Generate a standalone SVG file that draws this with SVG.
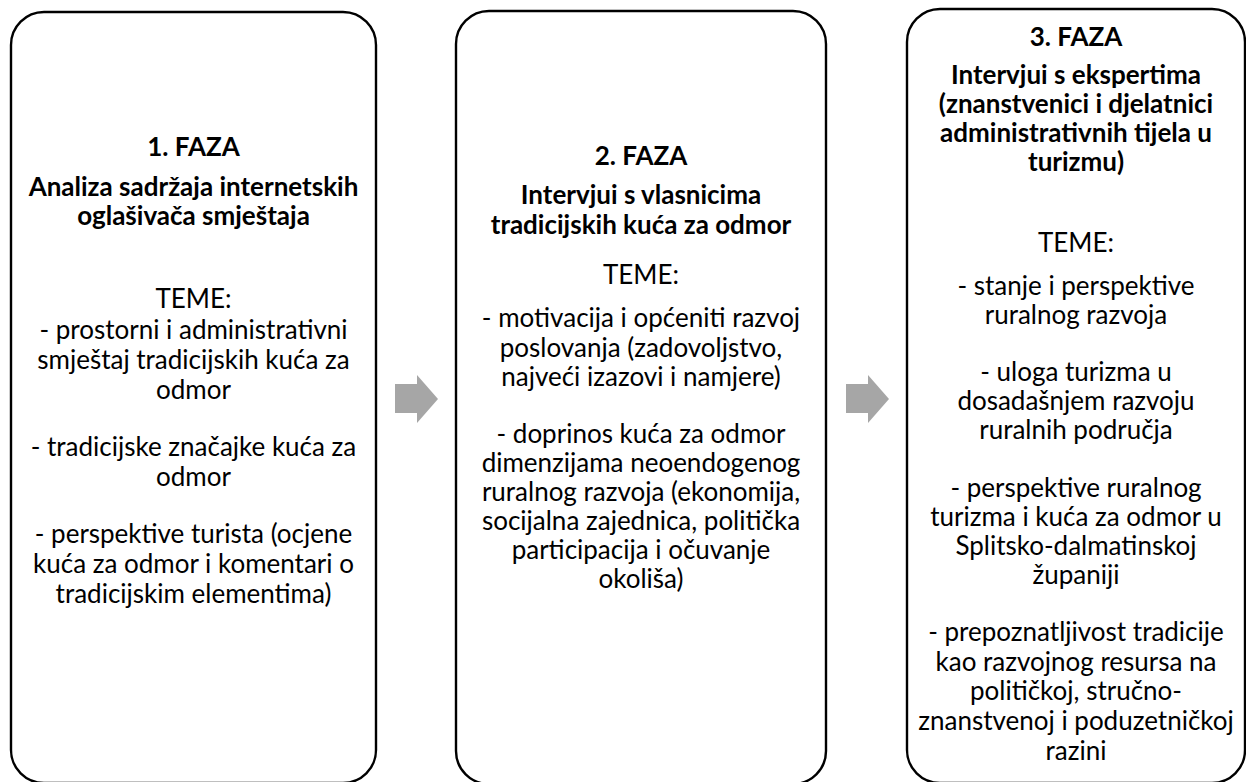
<svg xmlns="http://www.w3.org/2000/svg" width="1246" height="782" viewBox="0 0 1246 782">
<style>
.box{fill:#ffffff;stroke:#000000;stroke-width:2.4}
.arrow{fill:#a6a6a6;stroke:none}
text{font-family:Lato,"Liberation Sans",sans-serif;font-size:26px;fill:#000000;text-anchor:middle}
.b{font-weight:bold}
</style>
<rect width="1246" height="782" fill="#ffffff"/>
<g id="phase1">
<rect class="box" x="11" y="12" width="365" height="771" rx="33" ry="33"/>
<text class="b" x="193.5" y="156">1. FAZA</text>
<text class="b" x="193.5" y="196">Analiza sadržaja internetskih</text>
<text class="b" x="193.5" y="225">oglašivača smještaja</text>
<text x="193.5" y="308">TEME:</text>
<text x="193.5" y="339">- prostorni i administrativni</text>
<text x="193.5" y="369">smještaj tradicijskih kuća za</text>
<text x="193.5" y="399">odmor</text>
<text x="193.5" y="456">- tradicijske značajke kuća za</text>
<text x="193.5" y="486">odmor</text>
<text x="193.5" y="543">- perspektive turista (ocjene</text>
<text x="193.5" y="573">kuća za odmor i komentari o</text>
<text x="193.5" y="603">tradicijskim elementima)</text>
</g>
<g id="phase2">
<rect class="box" x="456" y="11" width="370" height="773" rx="33" ry="33"/>
<text class="b" x="641" y="165">2. FAZA</text>
<text class="b" x="641" y="204">Intervjui s vlasnicima</text>
<text class="b" x="641" y="234">tradicijskih kuća za odmor</text>
<text x="641" y="284">TEME:</text>
<text x="641" y="327">- motivacija i općeniti razvoj</text>
<text x="641" y="357">poslovanja (zadovoljstvo,</text>
<text x="641" y="386">najveći izazovi i namjere)</text>
<text x="641" y="443">- doprinos kuća za odmor</text>
<text x="641" y="472">dimenzijama neoendogenog</text>
<text x="641" y="501">ruralnog razvoja (ekonomija,</text>
<text x="641" y="530">socijalna zajednica, politička</text>
<text x="641" y="559">participacija i očuvanje</text>
<text x="641" y="588">okoliša)</text>
</g>
<g id="phase3">
<rect class="box" x="907" y="9" width="338" height="774" rx="33" ry="33"/>
<text class="b" x="1076" y="46">3. FAZA</text>
<text class="b" x="1076" y="84">Intervjui s ekspertima</text>
<text class="b" x="1076" y="113">(znanstvenici i djelatnici</text>
<text class="b" x="1076" y="142">administrativnih tijela u</text>
<text class="b" x="1076" y="171">turizmu)</text>
<text x="1076" y="252">TEME:</text>
<text x="1076" y="295">- stanje i perspektive</text>
<text x="1076" y="324">ruralnog razvoja</text>
<text x="1076" y="381">- uloga turizma u</text>
<text x="1076" y="410">dosadašnjem razvoju</text>
<text x="1076" y="439">ruralnih područja</text>
<text x="1076" y="497">- perspektive ruralnog</text>
<text x="1076" y="526">turizma i kuća za odmor u</text>
<text x="1076" y="555">Splitsko-dalmatinskoj</text>
<text x="1076" y="584">županiji</text>
<text x="1076" y="641">- prepoznatljivost tradicije</text>
<text x="1076" y="671">kao razvojnog resursa na</text>
<text x="1076" y="700">političkoj, stručno-</text>
<text x="1076" y="730">znanstvenoj i poduzetničkoj</text>
<text x="1076" y="760">razini</text>
</g>
<g id="connectors">
<polygon class="arrow" points="395,384 417,384 417,375 438,399 417,423 417,413 395,413"/>
<polygon class="arrow" points="846,384 868,384 868,375 889,399 868,423 868,413 846,413"/>
</g>
</svg>
